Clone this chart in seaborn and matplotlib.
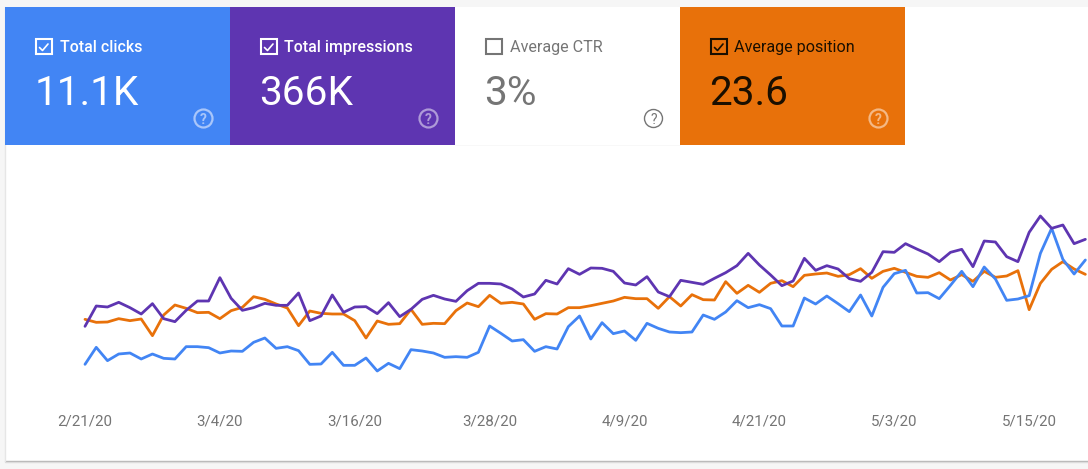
import pandas as pd
import seaborn as sns
import matplotlib.pyplot as plt
from matplotlib.patches import Rectangle, Circle

clicks = [107, 158, 118, 138, 141, 123, 138, 125, 123, 160,
          160, 157, 141, 147, 146, 173, 186, 155, 160, 148,
          107, 108, 143, 104, 104, 126, 87, 110, 94, 151,
          147, 141, 128, 130, 128, 143, 222, 200, 177, 181,
          146, 160, 153, 220, 252, 183, 232, 199, 207, 179,
          230, 215, 204, 202, 204, 255, 242, 264, 298, 277,
          286, 274, 222, 222, 306, 288, 312, 289, 265, 315,
          252, 338, 379, 389, 321, 322, 304, 344, 386, 340,
          399, 363, 299, 303, 313, 440, 515, 422, 378, 420]
impressions = [221, 282, 279, 293, 277, 258, 289, 244, 235, 269,
               297, 297, 367, 305, 269, 277, 290, 284, 284, 321,
               238, 252, 315, 263, 279, 280, 259, 292, 250, 272,
               302, 314, 303, 296, 328, 350, 350, 348, 333, 309,
               318, 359, 348, 394, 377, 396, 395, 386, 351, 345,
               370, 324, 310, 359, 353, 347, 365, 382, 403, 440,
               405, 375, 343, 357, 425, 389, 403, 393, 364, 356,
               383, 445, 443, 469, 453, 438, 415, 443, 452, 400,
               477, 474, 430, 415, 503, 552, 515, 525, 469, 482]
position = [242, 233, 234, 244, 238, 243, 193, 255, 285, 275,
            262, 263, 244, 268, 278, 310, 302, 288, 276, 223,
            267, 260, 258, 258, 238, 186, 237, 227, 229, 272,
            227, 230, 229, 268, 291, 280, 314, 290, 293, 288,
            242, 259, 258, 277, 277, 283, 290, 297, 308, 304,
            304, 275, 310, 282, 316, 301, 300, 355, 320, 344,
            323, 350, 358, 340, 374, 378, 381, 371, 376, 394,
            365, 386, 395, 383, 371, 368, 382, 360, 376, 356,
            386, 368, 372, 388, 271, 350, 392, 415, 393, 377]

card_names = ['Total clicks', 'Total impressions', 'Average CTR', 'Average position']
card_values = ['11.1K', '366K', '3%', '23.6']
card_colors = ['#4285f4', '#5e35b1', '#ffffff', '#e8710a']
text_colors = ['#ffffff', '#ffffff', '#757575', '#1a0f00']
help_colors = ['#a9c6fa', '#ae9ad8', '#757575', '#f4b885']
checked = [True, True, False, True]

sns.set_style('white')
plt.rcParams['font.family'] = ['Roboto', 'DejaVu Sans']

days = pd.date_range('2020-02-21', periods=len(clicks), freq='D')
myData = pd.DataFrame({'date': days, 'clicks': clicks,
                       'impressions': impressions, 'position': position})
longData = myData.melt(id_vars='date', var_name='metric', value_name='value')

fig = plt.figure(figsize=(10.88, 4.69), dpi=100, facecolor='#ffffff')

# page background and card, in pixel coordinates
page = fig.add_axes([0, 0, 1, 1], zorder=0)
page.set_xlim(0, 1088)
page.set_ylim(469, 0)
page.axis('off')
page.add_patch(Rectangle((0, 0), 1088, 7, color='#f6f6f6', lw=0))
page.add_patch(Rectangle((0, 461), 1088, 8, color='#f6f6f6', lw=0))
page.add_patch(Rectangle((0, 0), 5, 469, color='#f6f6f6', lw=0))
page.plot([5, 1088], [461.5, 461.5], color='#b4b4b4', lw=1)
page.plot([5, 1088], [462.5, 462.5], color='#dcdcdc', lw=1)
page.plot([5, 5], [7, 461], color='#e6e6e6', lw=1)
page.plot([455, 680], [144.5, 144.5], color='#e0e0e0', lw=1)

# chart, x axis stretched so one day is about 11.24 px
ax = fig.add_axes([0, 0, 1, 1], zorder=1)
ax.patch.set_alpha(0)
sns.lineplot(data=longData, x='date', y='value', hue='metric',
             hue_order=['position', 'clicks', 'impressions'],
             palette={'clicks': '#4285f4', 'impressions': '#5e35b1', 'position': '#e8710a'},
             linewidth=2, legend=False, ax=ax, errorbar=None)
px_per_day = 11.24
ax.set_xlim(days[0] - pd.Timedelta(days=85 / px_per_day),
            days[0] + pd.Timedelta(days=(1088 - 85) / px_per_day))
# v = 600 - 3 * (y_px - 200)
ax.set_ylim(600 - 3 * (469 - 200), 600 + 3 * 200)
ax.set_xlabel('')
ax.set_ylabel('')
ax.set_yticks([])
tick_days = pd.date_range('2020-02-21', '2020-05-15', freq='12D')
ax.set_xticks(tick_days)
ax.set_xticklabels([f'{d.month}/{d.day}/{d.strftime("%y")}' for d in tick_days])
ax.tick_params(axis='x', direction='in', pad=-39.5, length=0, labelsize=10.9,
               labelcolor='#757575')
sns.despine(ax=ax, left=True, bottom=True)

# metric cards on top
top = fig.add_axes([0, 0, 1, 1], zorder=2)
top.set_xlim(0, 1088)
top.set_ylim(469, 0)
top.axis('off')
for i, name in enumerate(card_names):
    x0 = 5 + 225 * i
    fg = text_colors[i]
    top.add_patch(Rectangle((x0, 7), 225, 138, color=card_colors[i], lw=0))
    top.add_patch(Rectangle((x0 + 30.5, 39.5), 16, 15, fill=False, ec=fg, lw=1.5))
    if checked[i]:
        top.plot([x0 + 34.5, x0 + 37.5, x0 + 43], [47.5, 50.5, 44], color=fg, lw=1.2)
    top.text(x0 + 54.5, 52, name, color=fg, fontsize=11.4 if i < 2 else 11.6, va='baseline', ha='left',
             fontweight='medium' if i < 2 else 'normal')
    top.text(x0 + 29.5, 105, card_values[i], color=fg, fontsize=29.2, va='baseline', ha='left')
    top.add_patch(Circle((x0 + 198.5, 118.5), 9, fill=False, ec=help_colors[i], lw=1.6 if i != 2 else 1))
    top.text(x0 + 198.5, 123.5, '?', color=help_colors[i], fontsize=10, fontweight='bold' if i != 2 else 'normal',
             ha='center', va='baseline')

plt.savefig('out.png', dpi=100)
